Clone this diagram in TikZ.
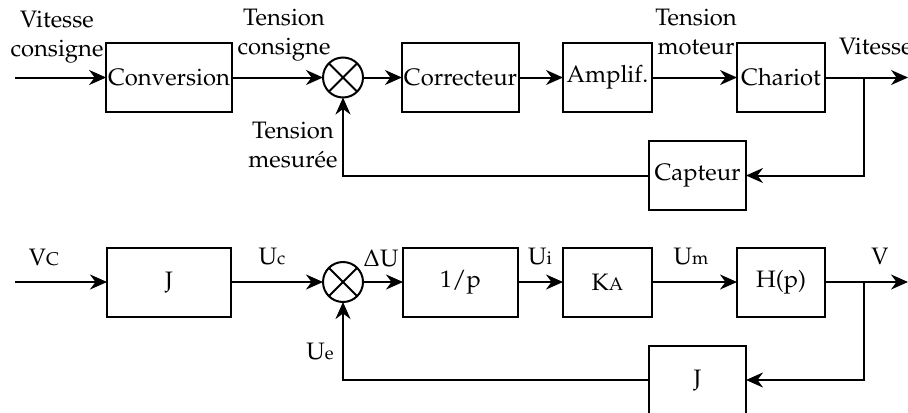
\documentclass[tikz,border=0pt]{standalone}
\usepackage[T1]{fontenc}
\usepackage{mathpazo}
\usepackage{tikz}
\usetikzlibrary{arrows.meta,positioning,calc}
\newcommand{\sfx}[1]{{\fontsize{9.2pt}{10pt}\selectfont #1}}

\begin{document}
\begin{tikzpicture}[
  x=0.5pt,y=-0.5pt,
  >={Stealth[length=8.5pt,width=7.5pt]},
  line width=1pt,
  every node/.style={font=\fontsize{11.9pt}{14.5pt}\selectfont},
  blok/.style={draw,minimum height=34.5pt,inner sep=1pt,outer sep=0pt},
  sumnode/.style={draw,circle,minimum size=20pt,inner sep=0pt,outer sep=0pt},
  lbl/.style={align=center,inner sep=0pt}
]
\useasboundingbox (0,0) rectangle (908,412);

% ---- top loop: physical description ----
\coordinate (in1) at (15,77.5);
\node[blok,minimum width=62pt] (conv) at (169,77.5) {Conversion};
\node[sumnode] (sum1) at (343,77.5) {};
\draw (sum1.north west)--(sum1.south east) (sum1.north east)--(sum1.south west);
\node[blok,minimum width=57.5pt] (corr) at (460.5,77.5) {Correcteur};
\node[blok,minimum width=44.5pt] (ampl) at (607.5,77.5) {Amplif.};
\node[blok,minimum width=44pt] (char) at (781,77.5) {Chariot};
\coordinate (br1) at (864,77.5);
\coordinate (out1) at (908,77.5);
\node[blok,minimum width=48.5pt] (capt) at (697.5,175.5) {Capteur};

\draw[->] (in1)--(conv);
\draw[->] (conv)--(sum1);
\draw[->] (sum1)--(corr);
\draw[->] (corr)--(ampl);
\draw[->] (ampl)--(char);
\draw[->] (char)--(out1);
\draw[->] (br1)|-(capt);
\draw[->] (capt.west)-|(sum1.south);

\node[lbl] (vcons) at (57,37) {Vitesse\\consigne};
\node[lbl] (tcons) at (284,35.5) {Tension\\consigne};
\node[lbl] (tmes) at (293,145) {Tension\\mesurée};
\node[lbl] (tmot) at (696,32) {Tension\\moteur};
\node[lbl,anchor=west] (vit) at (838,47) {Vitesse};

% ---- bottom loop: block diagram ----
\coordinate (in2) at (15,282);
\node[blok,minimum width=62pt] (jin) at (169,282) {J};
\node[sumnode] (sum2) at (343,282) {};
\draw (sum2.north west)--(sum2.south east) (sum2.north east)--(sum2.south west);
\node[blok,minimum width=57.5pt] (integ) at (460.5,282) {1/p};
\node[blok,minimum width=44.5pt] (gain) at (607.5,282) {K\sfx{A}};
\node[blok,minimum width=44pt] (hp) at (781,282) {H(p)};
\coordinate (br2) at (864,282);
\coordinate (out2) at (908,282);
\node[blok,minimum width=48.5pt] (jfb) at (697.5,380) {J};

\draw[->] (in2)--(jin);
\draw[->] (jin)--(sum2);
\draw[->] (sum2)--(integ);
\draw[->] (integ)--(gain);
\draw[->] (gain)--(hp);
\draw[->] (hp)--(out2);
\draw[->] (br2)|-(jfb);
\draw[->] (jfb.west)-|(sum2.south);

\node[lbl] (lvc) at (44,257) {V\sfx{C}};
\node[lbl] (luc) at (272,257) {U\sfx{c}};
\node[lbl] (ldu) at (381,258) {$\Delta$U};
\node[lbl] (lui) at (540,257) {U\sfx{i}};
\node[lbl] (lum) at (691,257) {U\sfx{m}};
\node[lbl] (lv) at (880,256) {V};
\node[lbl] (lue) at (320,352) {U\sfx{e}};

\end{tikzpicture}
\end{document}
